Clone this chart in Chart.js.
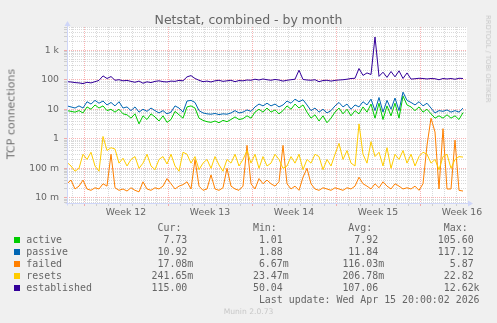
<!DOCTYPE html>
<html>
<head>
<meta charset="utf-8">
<title>Netstat, combined - by month</title>
<script src="https://cdn.jsdelivr.net/npm/chart.js@4/dist/chart.umd.min.js"></script>
<style>
	body { margin: 0; background: #f0f0f0; }
	#graph { position: relative; width: 497px; height: 323px; overflow: hidden; font-family: "DejaVu Sans", sans-serif; color: #666; }
	#graph canvas { position: absolute; left: 0; top: 0; }
	.title { position: absolute; left: 0; top: 12px; width: 497px; text-align: center; font-size: 12.5px; line-height: 15px; }
	.vlabel { position: absolute; left: 10.8px; top: 113.5px; transform: translate(-50%, -50%) rotate(-90deg); white-space: nowrap; font-size: 11px; line-height: 13px; color: #707070; }
	.watermark { position: absolute; left: 488px; top: 58.5px; transform: translate(-50%, -50%) rotate(90deg); white-space: nowrap; font-size: 6.8px; line-height: 8px; color: #c8c8c8; }
	pre.legend { position: absolute; left: 26.3px; top: 222px; margin: 0; font-family: "DejaVu Sans Mono", monospace; font-size: 9.92px; line-height: 12px; color: #666; }
	.swatch { position: absolute; left: 14px; width: 6px; height: 6px; }
	.munin { position: absolute; left: 0; top: 307px; width: 497px; text-align: center; font-size: 7.6px; line-height: 10px; color: #c8c8c8; }
</style>
</head>
<body>
<div id="graph">
	<canvas id="netstat" width="497" height="323"></canvas>
	<div class="title">Netstat, combined - by month</div>
	<div class="vlabel">TCP connections</div>
	<div class="watermark">RRDTOOL / TOBI OETIKER</div>
	<pre class="legend" id="legend"></pre>
	<div class="munin">Munin 2.0.73</div>
</div>
<script>
// samples every 8 hours, hour 0 = start of week 12
const sampleStart = -34;
const sampleStep = 8;

const weekLabels = ["Week 12", "Week 13", "Week 14", "Week 15", "Week 16"];
const yTickValues = [0.01, 0.1, 1, 10, 100, 1000];
const yTickLabels = ["10 m", "100 m", "1", "10", "100", "1 k"];

const seriesNames = ["active", "passive", "failed", "resets", "established"];
const seriesColors = ["#00cc00", "#0066b3", "#ff8000", "#ffcc00", "#330099"];

const active = [
	9, 8.5, 8, 9, 7.5, 12, 10, 14, 11, 13, 9, 10, 8, 10, 7, 6.5, 5, 7, 3.2, 6,
	4.5, 7, 5.5, 4, 6, 3.6, 4.5, 8.5, 6.5, 5, 12, 13, 11, 5, 4.2, 3.8, 3.6, 4, 3.5, 4.2,
	3.8, 4.5, 5.5, 4.5, 4.8, 6, 5, 8, 10, 8, 11, 8, 9.5, 7, 9, 13, 10, 15, 11, 14,
	8, 5, 6.5, 4, 6, 3.5, 5, 8, 11, 7, 10, 6, 9, 7, 12, 8, 15, 5, 16, 4.5,
	13, 6, 16, 5, 28, 14, 12, 9, 12, 8, 10, 7, 5, 6, 5, 6.5, 5, 6, 4.5, 7.7,
];
const passive = [
	13, 12, 11, 13, 11, 18, 15, 20, 16, 19, 14, 17, 13, 18, 11, 12, 9, 12, 8, 10,
	8.5, 11, 9, 7.5, 9, 7, 8, 13, 11, 8, 19, 20, 17, 9, 7.5, 7, 6.8, 7.2, 6.6, 7,
	6.8, 7.5, 9, 7.5, 8, 9.5, 8.5, 12, 15, 13, 16, 13, 15, 12, 14, 19, 16, 22, 18, 21,
	14, 9, 11, 8, 10, 7.5, 9, 13, 17, 12, 15, 10, 14, 12, 18, 14, 22, 9, 25, 8,
	20, 10, 24, 9, 38, 20, 17, 14, 18, 13, 16, 11, 7.5, 9, 8.5, 9.5, 8, 9, 8, 10.9,
];
const failed = [
	0.03, 0.04, 0.02, 0.025, 0.04, 0.02, 0.018, 0.022, 0.02, 0.03, 0.025, 0.3, 0.022, 0.018, 0.02, 0.017, 0.022, 0.018, 0.016, 0.035,
	0.02, 0.018, 0.022, 0.02, 0.025, 0.045, 0.03, 0.02, 0.025, 0.028, 0.035, 0.02, 0.2, 0.025, 0.018, 0.02, 0.06, 0.02, 0.018, 0.022,
	0.1, 0.025, 0.02, 0.018, 0.025, 0.6, 0.03, 0.02, 0.045, 0.03, 0.04, 0.03, 0.025, 0.035, 0.6, 0.03, 0.02, 0.025, 0.018, 0.05,
	0.1, 0.03, 0.02, 0.018, 0.022, 0.02, 0.018, 0.022, 0.02, 0.018, 0.022, 0.02, 0.025, 0.05, 0.03, 0.025, 0.02, 0.03, 0.022, 0.035,
	0.025, 0.02, 0.03, 0.025, 0.02, 0.022, 0.02, 0.025, 0.018, 0.03, 0.6, 5, 1.7, 0.02, 2.2, 0.02, 0.02, 0.9, 0.018, 0.017,
];
const resets = [
	0.16, 0.12, 0.08, 0.1, 0.3, 0.2, 0.35, 0.12, 0.08, 1.2, 0.4, 0.5, 0.45, 0.15, 0.22, 0.12, 0.2, 0.25, 0.1, 0.15,
	0.3, 0.12, 0.09, 0.2, 0.25, 0.14, 0.3, 0.12, 0.08, 0.35, 0.3, 0.15, 0.25, 0.09, 0.15, 0.2, 0.1, 0.25, 0.13, 0.08,
	0.2, 0.15, 0.3, 0.12, 0.2, 0.4, 0.15, 0.3, 0.1, 0.25, 0.12, 0.15, 0.3, 0.2, 0.1, 0.12, 0.25, 0.15, 0.3, 0.09,
	0.2, 0.15, 0.3, 0.25, 0.09, 0.2, 0.12, 0.3, 0.7, 0.2, 0.4, 0.15, 0.12, 3.2, 0.3, 0.15, 0.8, 0.25, 0.35, 0.12,
	0.5, 0.1, 0.3, 0.2, 0.4, 0.15, 0.3, 0.12, 0.25, 0.35, 0.3, 0.15, 0.2, 0.09, 0.25, 0.3, 0.1, 0.2, 0.25, 0.24,
];
const established = [
	86, 84, 80, 78, 74, 82, 78, 86, 95, 135, 110, 128, 96, 100, 92, 95, 88, 82, 90, 76,
	85, 80, 88, 92, 86, 84, 90, 88, 95, 92, 125, 138, 110, 96, 86, 90, 84, 92, 96, 88,
	92, 96, 86, 94, 92, 98, 96, 104, 98, 106, 100, 96, 102, 98, 90, 96, 100, 104, 210, 102,
	98, 96, 100, 86, 94, 96, 90, 95, 98, 100, 104, 110, 112, 240, 140, 170, 150, 2800, 130, 180,
	120, 190, 125, 200, 110, 170, 105, 108, 112, 110, 106, 110, 108, 100, 110, 106, 110, 104, 112, 110,
];

const curText = ["7.73", "10.92", "17.08m", "241.65m", "115.00"];
const minText = ["1.01", "1.88", "6.67m", "23.47m", "50.04"];
const avgText = ["7.92", "11.84", "116.03m", "206.78m", "107.06"];
const maxText = ["105.60", "117.12", "5.87", "22.82", "12.62k"];
const lastUpdate = "Last update: Wed Apr 15 20:00:02 2026";

const seriesValues = [active, passive, failed, resets, established];

const axisColor = "#cfd6f8";
const minorGrid = "rgba(128, 128, 128, 0.3)";
const majorGrid = "rgba(240, 64, 64, 0.4)";

function toPoints(values) {
	return values.map((v, i) => ({ x: sampleStart + i * sampleStep, y: v }));
}

function isDecade(v) {
	const e = Math.log10(v);
	return Math.abs(e - Math.round(e)) < 1e-9;
}

function hourColor(h) {
	if (((h % 24) + 24) % 24 === 12) {
		return "transparent";
	}
	return h % 168 === 0 ? majorGrid : minorGrid;
}

// rrdtool style value columns: 6 wide number plus unit character
function field(text) {
	let num = text;
	let unit = " ";
	if (/[mk]$/.test(text)) {
		num = text.slice(0, -1);
		unit = text.slice(-1);
	}
	return num.padStart(6, " ") + unit;
}

function buildLegend() {
	const lines = [];
	lines.push(" ".repeat(22) + "Cur:" + " ".repeat(12) + "Min:" + " ".repeat(12) + "Avg:" + " ".repeat(12) + "Max:");
	seriesNames.forEach((name, i) => {
		lines.push(
			name.padEnd(21, " ") +
				field(curText[i]) + " ".repeat(9) +
				field(minText[i]) + " ".repeat(9) +
				field(avgText[i]) + " ".repeat(9) +
				field(maxText[i])
		);
	});
	lines.push(" ".repeat(39) + lastUpdate);
	document.getElementById("legend").textContent = lines.join("\n");

	const graph = document.getElementById("graph");
	seriesColors.forEach((color, i) => {
		const box = document.createElement("div");
		box.className = "swatch";
		box.style.background = color;
		box.style.top = 237 + i * 12 + "px";
		graph.appendChild(box);
	});
}

const canvasBackground = {
	id: "canvasBackground",
	beforeDraw(chart) {
		const { ctx, chartArea } = chart;
		ctx.save();
		ctx.fillStyle = "#f0f0f0";
		ctx.fillRect(0, 0, chart.width, chart.height);
		ctx.fillStyle = "#ffffff";
		ctx.fillRect(chartArea.left, chartArea.top, chartArea.right - chartArea.left, chartArea.bottom - chartArea.top);
		ctx.restore();
	},
	afterDraw(chart) {
		const { ctx, chartArea } = chart;
		const left = Math.round(chartArea.left) + 0.5;
		const bottom = Math.round(chartArea.bottom) + 0.5;
		ctx.save();
		ctx.strokeStyle = axisColor;
		ctx.fillStyle = axisColor;
		ctx.lineWidth = 1;
		ctx.beginPath();
		ctx.moveTo(left, bottom + 2);
		ctx.lineTo(left, chartArea.top - 2);
		ctx.moveTo(left - 2, bottom);
		ctx.lineTo(chartArea.right + 2, bottom);
		ctx.stroke();
		ctx.beginPath();
		ctx.moveTo(left, chartArea.top - 6);
		ctx.lineTo(left - 3, chartArea.top - 1);
		ctx.lineTo(left + 3, chartArea.top - 1);
		ctx.closePath();
		ctx.fill();
		ctx.beginPath();
		ctx.moveTo(chartArea.right + 6, bottom);
		ctx.lineTo(chartArea.right + 1, bottom - 3);
		ctx.lineTo(chartArea.right + 1, bottom + 3);
		ctx.closePath();
		ctx.fill();
		ctx.restore();
	},
};

Chart.defaults.font.family = "'DejaVu Sans', sans-serif";
Chart.defaults.font.size = 9.3;
Chart.defaults.color = "#666666";

buildLegend();

new Chart(document.getElementById("netstat"), {
	type: "line",
	data: {
		datasets: seriesNames.map((name, i) => ({
			label: name,
			data: toPoints(seriesValues[i]),
			borderColor: seriesColors[i],
			backgroundColor: seriesColors[i],
			borderWidth: 1,
			borderJoinStyle: "round",
			pointRadius: 0,
			tension: 0,
			order: seriesNames.length - i,
		})),
	},
	options: {
		responsive: false,
		animation: false,
		devicePixelRatio: 1,
		events: [],
		layout: { padding: { top: 27, right: 30, left: 0, bottom: 0 } },
		plugins: { legend: { display: false }, tooltip: { enabled: false } },
		scales: {
			x: {
				type: "linear",
				min: -34,
				max: 766,
				afterFit(scale) {
					scale.height = 120;
				},
				afterBuildTicks(scale) {
					const ticks = [];
					for (let h = -24; h <= scale.max; h += 24) {
						ticks.push({ value: h });
					}
					weekLabels.forEach((label, i) => ticks.push({ value: 84 + 168 * i }));
					ticks.sort((a, b) => a.value - b.value);
					scale.ticks = ticks;
				},
				ticks: {
					autoSkip: false,
					maxRotation: 0,
					padding: 1,
					callback(value) {
						if (value % 168 === 84) {
							return weekLabels[(value - 84) / 168];
						}
						return "";
					},
				},
				grid: {
					color: (ctx) => (ctx.tick ? hourColor(ctx.tick.value) : minorGrid),
					tickColor: (ctx) => (ctx.tick ? hourColor(ctx.tick.value) : minorGrid),
					tickLength: 3,
				},
				border: { display: false, dash: [1, 1] },
			},
			y: {
				type: "logarithmic",
				min: 0.0067,
				max: 6100,
				afterFit(scale) {
					scale.width = 67;
				},
				afterBuildTicks(scale) {
					const ticks = [];
					for (let e = -3; e <= 3; e++) {
						for (let m = 1; m <= 9; m++) {
							const v = m * Math.pow(10, e);
							if (v >= scale.min && v <= scale.max) {
								ticks.push({ value: v });
							}
						}
					}
					scale.ticks = ticks;
				},
				ticks: {
					autoSkip: false,
					padding: 5,
					callback(value) {
						const idx = yTickValues.findIndex((t) => Math.abs(t - value) / t < 1e-6);
						return idx >= 0 ? yTickLabels[idx] : "";
					},
				},
				grid: {
					color: (ctx) => (ctx.tick && isDecade(ctx.tick.value) ? majorGrid : minorGrid),
					tickColor: (ctx) => (ctx.tick && isDecade(ctx.tick.value) ? majorGrid : minorGrid),
					tickLength: 3,
				},
				border: { display: false, dash: [1, 1] },
			},
		},
	},
	plugins: [canvasBackground],
});
</script>
</body>
</html>
